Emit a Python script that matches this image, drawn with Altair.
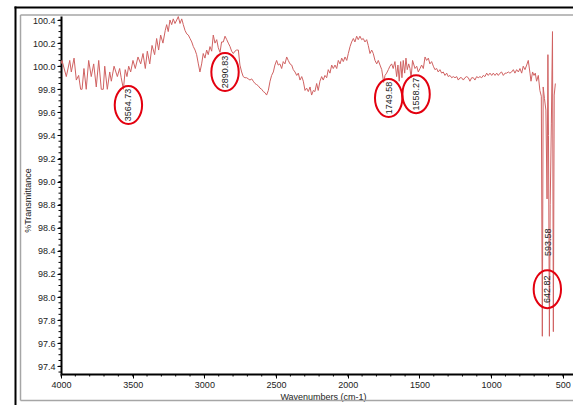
import altair as alt
import pandas as pd

# ---- FTIR spectrum (wavenumber in cm-1, %T) ----
wavenumber = [
    4000, 3993, 3963, 3939, 3928, 3909, 3893, 3877, 3863, 3853, 3840, 3824, 3807,
    3789, 3772, 3754, 3737, 3719, 3705, 3695, 3677, 3660, 3649, 3630, 3607, 3591,
    3580, 3564.73, 3552, 3540, 3528, 3514, 3498, 3482, 3463, 3444, 3428, 3412,
    3398, 3381, 3365, 3347, 3333, 3319, 3305, 3289, 3273, 3263,
    3252, 3240, 3228, 3217, 3205, 3193, 3182, 3170, 3158, 3147, 3135, 3123, 3112,
    3100, 3088, 3077, 3065, 3054, 3042, 3031, 3019, 3008, 2996, 2984, 2973, 2961,
    2949, 2938, 2926, 2914, 2903, 2890.83, 2880, 2868, 2856, 2844, 2833, 2821,
    2810, 2798, 2787, 2775, 2763, 2752, 2740, 2729, 2717, 2705, 2694, 2682, 2670,
    2659, 2647, 2635, 2624, 2612, 2600, 2589, 2577, 2566, 2554, 2542,
    2531, 2519, 2508, 2496, 2485, 2473, 2461, 2450, 2438, 2426, 2415, 2403, 2391,
    2380, 2368, 2356, 2345, 2333, 2321, 2310, 2298, 2287, 2275, 2263, 2252, 2240,
    2229, 2217, 2206, 2194, 2182, 2171, 2159, 2147, 2136, 2124, 2112, 2101, 2089,
    2077, 2066, 2054, 2042, 2031, 2019, 2007, 1996, 1984, 1973, 1961, 1950, 1938,
    1927, 1915, 1903, 1892, 1880, 1868, 1857, 1845,
    1833, 1822, 1810, 1798, 1787, 1775, 1763, 1749.58, 1740, 1729, 1717, 1706,
    1694, 1683, 1671, 1659, 1650, 1641, 1631, 1622, 1613, 1603, 1594, 1585, 1575,
    1566, 1558.27, 1548, 1531, 1519, 1508, 1496, 1485, 1473, 1461, 1450, 1438,
    1427, 1415, 1403, 1392, 1380, 1369, 1357, 1345, 1334, 1322, 1310, 1299, 1287,
    1275, 1264, 1252, 1240, 1229, 1217, 1206, 1194, 1183, 1171, 1159,
    1148, 1136, 1124, 1113, 1101, 1090, 1078, 1066, 1055, 1043, 1031, 1020, 1008,
    996, 985, 973, 961, 950, 938, 927, 915, 903, 892, 880, 869, 857, 845, 834,
    822, 810, 799, 787, 776, 764, 752, 741, 729, 722, 711, 701, 692, 683, 671,
    660, 650, 642.82, 637, 628, 618, 610, 604, 600, 593.58, 588, 580, 572, 566,
    560, 552,
]

transmittance = [
    100.02, 100.05, 99.91, 100.05, 99.95, 100.07, 99.88, 99.92, 99.80, 99.80, 99.98, 99.80, 100.05,
    99.91, 100.02, 99.82, 100.05, 99.80, 99.80, 100.00, 99.80, 99.95, 99.87, 100.00, 99.91, 99.98,
    99.90, 99.80, 99.97, 99.91, 100.00, 99.95, 100.05, 99.98, 100.08, 100.02, 100.11, 99.98,
    100.13, 100.02, 100.18, 100.10, 100.24, 100.14, 100.27, 100.20, 100.31, 100.36,
    100.30, 100.40, 100.36, 100.41, 100.37, 100.40, 100.43, 100.37, 100.41, 100.36, 100.31, 100.28, 100.27,
    100.24, 100.21, 100.17, 100.14, 100.10, 100.02, 99.95, 100.02, 100.11, 100.07, 100.14, 100.10, 100.17,
    100.13, 100.27, 100.20, 100.23, 100.16, 100.12, 100.21, 100.21, 100.26, 100.23, 100.20, 100.17,
    100.13, 100.11, 100.13, 100.14, 100.14, 100.01, 99.95, 99.91, 99.90, 99.90, 99.89, 99.88, 99.89,
    99.87, 99.85, 99.84, 99.83, 99.81, 99.80, 99.78, 99.77, 99.75, 99.79, 99.87,
    99.92, 99.95, 100.01, 100.05, 100.01, 100.02, 99.98, 100.04, 100.02, 100.08, 100.05, 100.02, 100.01,
    99.97, 99.95, 99.92, 99.94, 99.88, 99.91, 99.87, 99.79, 99.81, 99.78, 99.82, 99.75, 99.79,
    99.78, 99.85, 99.79, 99.87, 99.91, 99.88, 99.92, 99.90, 99.97, 99.94, 100.01, 99.98, 100.01,
    99.98, 100.05, 100.02, 100.07, 100.04, 100.08, 100.05, 100.11, 100.17, 100.21, 100.24, 100.21, 100.26,
    100.23, 100.26, 100.23, 100.24, 100.21, 100.23, 100.18, 100.11,
    100.14, 100.11, 100.05, 100.02, 100.05, 100.01, 99.97, 99.86, 99.92, 99.94, 99.97, 100.00,
    100.02, 99.98, 100.04, 99.91, 100.01, 99.87, 100.04, 99.90, 100.05, 99.94, 100.07, 99.97, 100.02,
    99.98, 99.90, 100.05, 99.98, 100.00, 99.95, 99.98, 100.01, 99.98, 100.08, 100.05, 100.07,
    100.02, 100.04, 100.00, 99.97, 99.98, 99.95, 99.97, 99.94, 99.95, 99.92, 99.94, 99.91, 99.92,
    99.90, 99.91, 99.90, 99.91, 99.88, 99.90, 99.90, 99.88, 99.90, 99.91, 99.90,
    99.87, 99.90, 99.90, 99.88, 99.91, 99.90, 99.91, 99.90, 99.92, 99.91, 99.94, 99.92, 99.94,
    99.92, 99.94, 99.92, 99.94, 99.92, 99.94, 99.95, 99.92, 99.94, 99.94, 99.95, 99.94, 99.95, 99.97, 99.94,
    99.97, 99.95, 99.98, 99.94, 100.00, 99.97, 100.01, 100.05, 99.94, 99.87, 99.95, 99.92, 99.94, 99.87, 99.92,
    99.79, 99.74, 97.66, 99.82, 99.72, 99.62, 98.85, 100.10, 99.40, 97.66, 98.80, 99.50, 100.30, 97.70,
    99.75, 99.85,
]

# ---- labelled peaks ----
peak_text = ["3564.73", "2890.83", "1749.58", "1558.27", "642.82", "593.58"]
peak_wn = [3564.73, 2890.83, 1749.58, 1558.27, 642.82, 593.58]
label_level = [99.663, 99.949, 99.724, 99.758, 98.068, 98.475]
circled = [True, True, True, True, True, False]

# ---- axis ticks ----
x_ticks = [4000, 3500, 3000, 2500, 2000, 1500, 1000, 500]
y_ticks = [97.4, 97.6, 97.8, 98.0, 98.2, 98.4, 98.6, 98.8, 99.0, 99.2,
           99.4, 99.6, 99.8, 100.0, 100.2, 100.4]
x_minor = list(range(4000, 499, -100))
y_minor = [round(97.35 + 0.05 * i, 2) for i in range(62)]

W, H = 512, 358
FONT = "Liberation Sans"

spec = pd.DataFrame({"wavenumber": wavenumber, "transmittance": transmittance})
peaks = pd.DataFrame({"label": peak_text, "wavenumber": peak_wn,
                      "transmittance": label_level, "circled": circled})

xs = alt.Scale(domain=[4000, 429], nice=False)
ys = alt.Scale(domain=[97.333, 100.435], nice=False, zero=False)

x_axis = alt.Axis(values=x_ticks, format="d", grid=False, tickSize=4, tickColor="#000",
                  domainColor="#000", domainWidth=2, labelFont=FONT, labelFontSize=9,
                  labelColor="#222", labelFlush=False, labelPadding=2, labelOverlap=False,
                  title="Wavenumbers (cm-1)", titleFont=FONT, titleFontSize=9,
                  titleFontWeight="normal", titleColor="#222", titleX=262, titleY=18,
                  titleBaseline="top", titleAlign="center")
y_axis = alt.Axis(values=y_ticks, format=".1f", grid=False, tickSize=4, tickColor="#000",
                  domainColor="#000", domainWidth=2, labelFont=FONT, labelFontSize=9,
                  labelColor="#222", labelPadding=2, labelOverlap=False,
                  title="%Transmittance", titleFont=FONT, titleFontSize=9,
                  titleFontWeight="normal", titleColor="#222", titleX=-34, titleY=184,
                  titleAngle=270, titleAlign="center", titleBaseline="middle")

X = alt.X("wavenumber:Q", scale=xs, axis=x_axis)
Y = alt.Y("transmittance:Q", scale=ys, axis=y_axis)

line = alt.Chart(spec).mark_line(color="#d06262", strokeWidth=1, clip=True).encode(x=X, y=Y)

# minor ticks along both axes
x_minor_ticks = alt.Chart(pd.DataFrame({"wavenumber": x_minor})).mark_rule(
    color="#000", strokeWidth=1).encode(x=X, y=alt.value(H), y2=alt.value(H + 2.5))
y_minor_ticks = alt.Chart(pd.DataFrame({"transmittance": y_minor})).mark_rule(
    color="#000", strokeWidth=1).encode(y=Y, x=alt.value(-2.5), x2=alt.value(0))

ellipse = ("M0,-1 C0.398,-1 0.72,-0.552 0.72,0 C0.72,0.552 0.398,1 0,1 "
           "C-0.398,1 -0.72,0.552 -0.72,0 C-0.72,-0.552 -0.398,-1 0,-1 Z")

main_peaks = alt.Chart(peaks).transform_filter("datum.label != '593.58'")
side_peaks = alt.Chart(peaks).transform_filter("datum.label == '593.58'")

labels_main = main_peaks.mark_text(angle=270, font=FONT, fontSize=9, color="#222",
                                   align="center", baseline="middle", xOffset=5).encode(
    text="label:N", x=X, y=Y)
labels_side = side_peaks.mark_text(angle=270, font=FONT, fontSize=9, color="#222",
                                   align="center", baseline="middle", xOffset=-1).encode(
    text="label:N", x=X, y=Y)
rings = alt.Chart(peaks).transform_filter("datum.circled").mark_point(
    shape=ellipse, size=1444, filled=False, stroke="#e3000f", strokeWidth=2,
    opacity=1, xOffset=5).encode(x=X, y=Y)

# page frame
one = pd.DataFrame({"k": [0]})
frame = [
    alt.Chart(one).mark_rule(color="#000", strokeWidth=2).encode(
        x=alt.value(-45.5), y=alt.value(-9.5), y2=alt.value(390)),
    alt.Chart(one).mark_rule(color="#000", strokeWidth=2).encode(
        x=alt.value(-46.5), x2=alt.value(W + 2), y=alt.value(-8.5)),
    alt.Chart(one).mark_rule(color="#a6a6a6", strokeWidth=1.5).encode(
        x=alt.value(-40.5), y=alt.value(-1), y2=alt.value(384.5)),
    alt.Chart(one).mark_rule(color="#a6a6a6", strokeWidth=1.5).encode(
        x=alt.value(-40.5), x2=alt.value(W + 2), y=alt.value(-1)),
    alt.Chart(one).mark_rule(color="#a6a6a6", strokeWidth=1.5).encode(
        x=alt.value(-40.5), x2=alt.value(W + 2), y=alt.value(384.5)),
]

chart = alt.layer(
    line, x_minor_ticks, y_minor_ticks, labels_main, labels_side, rings, *frame
).properties(
    width=W, height=H,
    autosize=alt.AutoSizeParams(type="none"),
    padding={"left": 61, "top": 16, "right": 0, "bottom": 31},
    background="white",
).configure_view(strokeWidth=0)

chart.save("out.html", embed_options={"renderer": "svg", "actions": False})
